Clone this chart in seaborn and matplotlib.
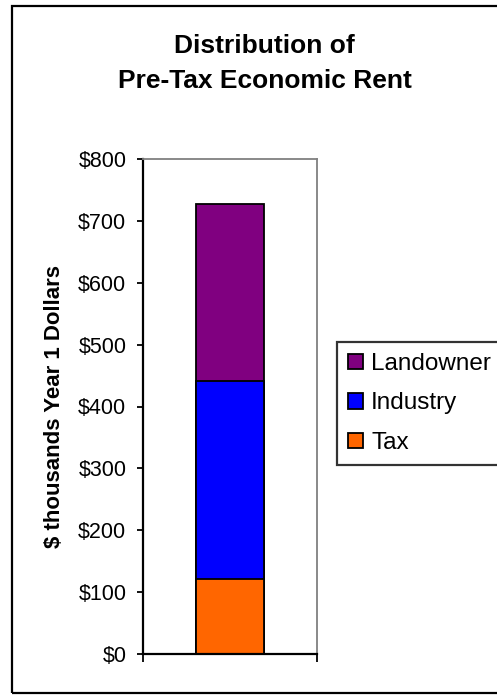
import matplotlib
matplotlib.use("Agg")
import matplotlib.pyplot as plt
import matplotlib.patches as mpatches
import seaborn as sns
import pandas as pd

# Rent shares, $ thousands (Year 1 dollars)
category = ["Pre-Tax"]
segments = ["Tax", "Industry", "Landowner"]
values = [122, 320, 285]
colors = ["#FF6600", "#0000FF", "#800080"]
y_ticks = [0, 100, 200, 300, 400, 500, 600, 700, 800]
y_tick_labels = ["$0", "$100", "$200", "$300", "$400", "$500", "$600", "$700", "$800"]

sns.set_theme(style="white")
plt.rcParams["font.family"] = ["Liberation Sans", "DejaVu Sans"]
plt.rcParams["text.color"] = "black"
plt.rcParams["axes.labelcolor"] = "black"
plt.rcParams["xtick.color"] = "black"
plt.rcParams["ytick.color"] = "black"

W, H, DPI = 497, 698, 100
fig = plt.figure(figsize=(W / DPI, H / DPI), dpi=DPI)
ax = fig.add_axes([143 / W, 1 - 654 / H, (317 - 143) / W, (654 - 159) / H])

# Cumulative totals, drawn tallest first so lower segments sit on top
cum = []
running = 0
for v in values:
    running += v
    cum.append(running)
df = pd.DataFrame({"cat": category * len(segments), "seg": segments, "top": cum})

for i in reversed(range(len(segments))):
    sns.barplot(data=df.iloc[[i]], x="cat", y="top", color=colors[i],
                width=0.39, edgecolor="black", linewidth=1.3,
                saturation=1, ax=ax)

ax.set_xlim(-0.5, 0.5)
ax.set_ylim(0, 800)
ax.set_yticks(y_ticks)
ax.set_yticklabels(y_tick_labels, fontsize=15.5, color="black")
ax.set_xticks([-0.5, 0.5])
ax.set_xticklabels(["", ""])
ax.set_xlabel("")
ax.set_ylabel("$ thousands Year 1 Dollars", fontsize=16, fontweight="bold", color="black")
ax.yaxis.set_label_coords(-0.45, 0.5)

ax.tick_params(axis="y", direction="out", length=4, width=1.3, color="black", pad=8, left=True)
ax.tick_params(axis="x", direction="out", length=6, width=1.3, color="black", bottom=True)

for side in ["left", "bottom"]:
    ax.spines[side].set_color("black")
    ax.spines[side].set_linewidth(1.6)
for side in ["top", "right"]:
    ax.spines[side].set_color("#808080")
    ax.spines[side].set_linewidth(1.3)

# Title
fig.text(264.5 / W, 1 - 63.5 / H, "Distribution of\nPre-Tax Economic Rent",
         ha="center", va="center", fontsize=19, fontweight="bold",
         linespacing=1.55, color="black")

# Legend, top entry first; its frame runs off the right edge
handles = [mpatches.Patch(facecolor=colors[i], edgecolor="black", linewidth=1.3,
                          label=segments[i]) for i in reversed(range(len(segments)))]
leg = fig.legend(handles=handles, loc="upper left", mode="expand",
                 bbox_to_anchor=(337 / W, 1 - 342 / H, 200 / W, 0.0),
                 bbox_transform=fig.transFigure,
                 fontsize=17.5, frameon=True, fancybox=False, borderpad=0.45,
                 handlelength=0.6, handleheight=0.6, handletextpad=0.35,
                 labelspacing=0.72, borderaxespad=0)
leg.get_frame().set_edgecolor("black")
leg.get_frame().set_linewidth(1.6)
for t in leg.get_texts():
    t.set_color("black")

# Chart area border
fig.patches.append(mpatches.Rectangle((12 / W, 1 - 693 / H), (W + 10 - 12) / W, (693 - 6) / H,
                                      transform=fig.transFigure, fill=False,
                                      edgecolor="black", linewidth=1.6))

fig.savefig("out.png", dpi=DPI)
